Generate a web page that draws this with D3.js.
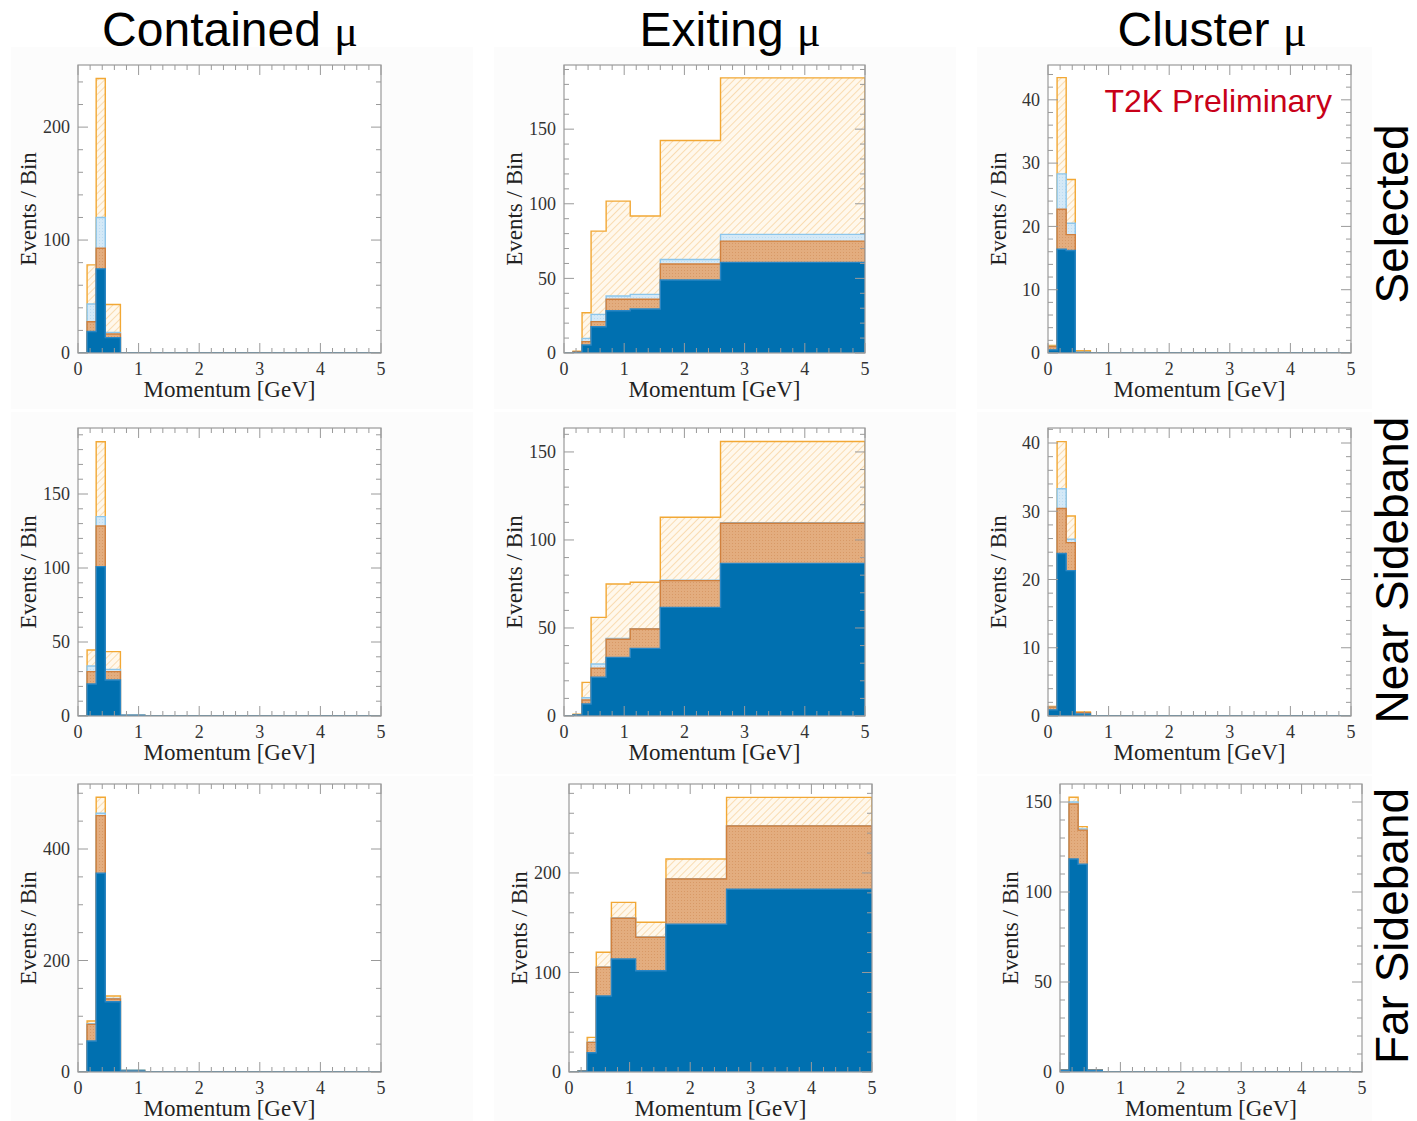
<!DOCTYPE html>
<html>
<head>
<meta charset="utf-8">
<script src="https://cdn.jsdelivr.net/npm/d3@7"></script>
<style>
body { margin: 0; background: #fff; }
</style>
</head>
<body>
<script>

// momentum bins [GeV]
var binEdges = [0, 0.15, 0.3, 0.45, 0.7, 1.1, 1.6, 2.6, 5.0];
var xTickValues = [0, 1, 2, 3, 4, 5];
var columnTitles = ["Contained", "Exiting", "Cluster"];
var rowTitles = ["Selected", "Near Sideband", "Far Sideband"];

// each panel: [signal, tan bkg, light blue bkg, hatched bkg], events per bin
var containedSelected = [
    [0, 19, 74.5, 13.6, 0, 0, 0, 0],
    [0, 8.7, 18.3, 3.2, 0, 0, 0, 0],
    [0, 15.7, 27.2, 1.5, 0, 0, 0, 0],
    [0, 34.6, 123, 24.7, 0, 0, 0, 0]];
var exitingSelected = [
    [0, 0.3, 5.4, 17.6, 28.3, 29.5, 48.9, 60.7],
    [0, 0.5, 2.2, 3.4, 7.7, 6.5, 10.7, 14.3],
    [0, 0.1, 2.2, 4.9, 2.2, 3.3, 3.1, 4.5],
    [0, 0.3, 17.2, 55.8, 63.6, 52.5, 79.7, 104.9]];
var clusterSelected = [
    [0.5, 16.4, 16.2, 0.1, 0, 0, 0, 0],
    [0.5, 6.3, 2.5, 0, 0, 0, 0, 0],
    [0.05, 5.6, 1.8, 0, 0, 0, 0, 0],
    [0.15, 15.2, 6.9, 0.25, 0, 0, 0, 0]];
var containedNear = [
    [0, 21.6, 100.9, 24.3, 0.3, 0, 0, 0],
    [0, 8.4, 27.5, 5.7, 0, 0, 0, 0],
    [0, 3.8, 6.3, 1.5, 0.6, 0, 0, 0],
    [0, 10.8, 50.6, 12, 0, 0, 0, 0]];
var exitingNear = [
    [0, 0.6, 6.8, 22, 33.3, 38.4, 61.7, 86.7],
    [0, 0.1, 2.3, 5.1, 10.3, 11, 15.2, 22.8],
    [0, 0.1, 1.3, 2.4, 0.5, 0.2, 0.3, 0.3],
    [0, 0.2, 8.7, 26.5, 30.9, 26.4, 35.7, 46.1]];
var clusterNear = [
    [0.9, 23.8, 21.3, 0.3, 0, 0, 0, 0],
    [0.4, 6.6, 4.1, 0.2, 0, 0, 0, 0],
    [0, 2.9, 0.5, 0, 0, 0, 0, 0],
    [0.1, 6.9, 3.4, 0.1, 0, 0, 0, 0]];
var containedFar = [
    [0, 55.6, 356.4, 126, 2, 0, 0, 0],
    [0, 29.9, 103.4, 5, 0, 0, 0, 0],
    [0, 1, 4.2, 1, 1.5, 0, 0, 0],
    [0, 5, 28.7, 4.3, 0, 0, 0, 0]];
var exitingFar = [
    [0, 0.8, 19.4, 76.4, 113.6, 101.8, 148.4, 183.6],
    [0, 0.2, 10.4, 28.8, 40.9, 33.6, 45.6, 63.6],
    [0, 0, 0.2, 0.3, 0.3, 0.2, 0.3, 0.3],
    [0, 0.2, 4.8, 14.8, 15.7, 14.9, 19.7, 28.5]];
var clusterFar = [
    [1, 118.3, 115.4, 1, 0, 0, 0, 0],
    [0.2, 30.6, 19, 0.2, 0, 0, 0, 0],
    [0, 1.1, 0.6, 0, 0, 0, 0, 0],
    [0.1, 2.6, 1.3, 0.1, 0, 0, 0, 0]];

var panelData = [
    [containedSelected, exitingSelected, clusterSelected],
    [containedNear, exitingNear, clusterNear],
    [containedFar, exitingFar, clusterFar]];

// y axis ranges and tick steps
var yMaxima = [[255, 193, 45.5], [194.6, 163.6, 42.2], [516.6, 289.4, 160]];
var yMajorStep = [[100, 50, 10], [50, 50, 10], [200, 100, 50]];
var yMinorStep = [[20, 10, 2], [10, 10, 2], [50, 20, 10]];

// layout
var panelLeft = [[78, 564, 1048], [78, 564, 1048], [78, 569, 1060]];
var panelWidth = [[303, 301, 303], [303, 301, 303], [303, 303, 302]];
var panelTop = [65, 428, 784];
var panelHeight = 288;
var titleX = [230, 730, 1212];
var rowLabelY = [214, 570, 926];

var serif = "'Liberation Serif', 'Times New Roman', serif";
var sans = "'Liberation Sans', Arial, sans-serif";

var layerFill = ["#0070b0", "url(#tanfill)", "url(#bluefill)", "url(#hatch)"];
var layerStroke = ["#2a86c4", "#d0803e", "#8cc6ec", "#f2a835"];

var canvas = d3.select("body")
    .append("svg")
    .attr("width", 1417).attr("height", 1121);

var defs = canvas.append("defs");

var hatch = defs.append("pattern")
    .attr("id", "hatch")
    .attr("patternUnits", "userSpaceOnUse")
    .attr("width", 5).attr("height", 5)
    .attr("patternTransform", "rotate(45)");
hatch.append("rect").attr("width", 5).attr("height", 5).attr("fill", "#fff8ec");
hatch.append("line")
    .attr("x1", 0).attr("y1", 0).attr("x2", 0).attr("y2", 5)
    .attr("stroke", "#f7cd92").attr("stroke-width", 1.3);

var tan = defs.append("pattern")
    .attr("id", "tanfill")
    .attr("patternUnits", "userSpaceOnUse")
    .attr("width", 3).attr("height", 3);
tan.append("rect").attr("width", 3).attr("height", 3).attr("fill", "#e3ad7f");
tan.append("rect").attr("width", 1).attr("height", 1).attr("fill", "#d89966");

var lb = defs.append("pattern")
    .attr("id", "bluefill")
    .attr("patternUnits", "userSpaceOnUse")
    .attr("width", 3).attr("height", 3);
lb.append("rect").attr("width", 3).attr("height", 3).attr("fill", "#d4e9f7");
lb.append("rect").attr("width", 1).attr("height", 1).attr("fill", "#bcdcf2");

// faint cell backgrounds
var cellX = [11, 494, 977];
var cellW = [462, 462, 395];
var cellY = [47, 412, 776];
var cellH = [362, 362, 345];
for (var r = 0; r < 3; r++) {
    for (var c = 0; c < 3; c++) {
        canvas.append("rect")
            .attr("x", cellX[c]).attr("y", cellY[r])
            .attr("width", cellW[c]).attr("height", cellH[r])
            .attr("fill", "#fcfcfc");
    }
}

function drawPanel(r, c) {
    var left = panelLeft[r][c], top = panelTop[r], w = panelWidth[r][c], h = panelHeight;
    var values = panelData[r][c];
    var yMax = yMaxima[r][c];

    var x = d3.scaleLinear().domain([0, 5]).range([left, left + w]);
    var y = d3.scaleLinear().domain([0, yMax]).range([top + h, top]);

    var g = canvas.append("g");

    g.append("rect")
        .attr("x", left).attr("y", top).attr("width", w).attr("height", h)
        .attr("fill", "#fff");

    var clipId = "clip" + r + c;
    defs.append("clipPath").attr("id", clipId)
        .append("rect").attr("x", left).attr("y", top).attr("width", w).attr("height", h);

    // cumulative stack
    var tops = [];
    var run = binEdges.slice(0, -1).map(function () { return 0; });
    values.forEach(function (layer) {
        run = run.map(function (v, i) { return v + layer[i]; });
        tops.push(run.slice());
    });

    var area = d3.area()
        .x(function (d) { return x(d.x); })
        .y0(y(0))
        .y1(function (d) { return y(d.y); })
        .curve(d3.curveStepAfter);

    var hg = g.append("g").attr("clip-path", "url(#" + clipId + ")");
    for (var k = tops.length - 1; k >= 0; k--) {
        var pts = tops[k].map(function (v, i) { return { x: binEdges[i], y: v }; });
        pts.push({ x: binEdges[binEdges.length - 1], y: tops[k][tops[k].length - 1] });
        hg.append("path")
            .datum(pts)
            .attr("d", area)
            .attr("fill", layerFill[k])
            .attr("stroke", layerStroke[k])
            .attr("stroke-width", 1.4);
    }

    // frame
    g.append("rect")
        .attr("x", left).attr("y", top).attr("width", w).attr("height", h)
        .attr("fill", "none").attr("stroke", "#9a9a9a").attr("stroke-width", 1.2);

    var tickColor = "#9a9a9a";
    var xMinor = d3.range(0, 5.0001, 0.2);
    xMinor.forEach(function (v) {
        var major = Math.abs(v - Math.round(v)) < 1e-6;
        var len = major ? 10 : 5;
        g.append("line").attr("x1", x(v)).attr("x2", x(v))
            .attr("y1", top + h).attr("y2", top + h - len)
            .attr("stroke", tickColor).attr("stroke-width", 1);
        g.append("line").attr("x1", x(v)).attr("x2", x(v))
            .attr("y1", top).attr("y2", top + len)
            .attr("stroke", tickColor).attr("stroke-width", 1);
    });

    var majStep = yMajorStep[r][c], minStep = yMinorStep[r][c];
    var yMinor = d3.range(0, yMax, minStep);
    yMinor.forEach(function (v) {
        var major = Math.abs(v / majStep - Math.round(v / majStep)) < 1e-6;
        var len = major ? 10 : 5;
        g.append("line").attr("x1", left).attr("x2", left + len)
            .attr("y1", y(v)).attr("y2", y(v))
            .attr("stroke", tickColor).attr("stroke-width", 1);
        g.append("line").attr("x1", left + w).attr("x2", left + w - len)
            .attr("y1", y(v)).attr("y2", y(v))
            .attr("stroke", tickColor).attr("stroke-width", 1);
    });

    // tick labels
    g.selectAll("text.xt")
        .data(xTickValues)
        .enter()
        .append("text")
        .attr("x", function (d) { return x(d); })
        .attr("y", top + h + 22)
        .attr("text-anchor", "middle")
        .attr("font-family", serif).attr("font-size", "18px").attr("fill", "#333")
        .text(function (d) { return d; });

    g.selectAll("text.yt")
        .data(d3.range(0, yMax, majStep))
        .enter()
        .append("text")
        .attr("x", left - 8)
        .attr("y", function (d) { return y(d); })
        .attr("dy", "0.35em")
        .attr("text-anchor", "end")
        .attr("font-family", serif).attr("font-size", "18px").attr("fill", "#333")
        .text(function (d) { return d; });

    g.append("text")
        .attr("x", left + w / 2).attr("y", top + h + 44)
        .attr("text-anchor", "middle")
        .attr("font-family", serif).attr("font-size", "23px").attr("fill", "#222")
        .text("Momentum [GeV]");

    g.append("text")
        .attr("transform", "translate(" + (left - 42) + "," + (top + h / 2) + ") rotate(-90)")
        .attr("text-anchor", "middle")
        .attr("font-family", serif).attr("font-size", "23px").attr("fill", "#222")
        .text("Events / Bin");
}

for (var r = 0; r < 3; r++) {
    for (var c = 0; c < 3; c++) {
        drawPanel(r, c);
    }
}

// column titles
columnTitles.forEach(function (t, i) {
    var txt = canvas.append("text")
        .attr("x", titleX[i]).attr("y", 46)
        .attr("text-anchor", "middle")
        .attr("font-family", sans).attr("font-size", "48px").attr("fill", "#000");
    txt.append("tspan").text(t + " ");
    txt.append("tspan").attr("font-family", serif).attr("font-size", "44px").text("μ");
});

// row titles
rowTitles.forEach(function (t, i) {
    canvas.append("text")
        .attr("transform", "translate(1408," + rowLabelY[i] + ") rotate(-90)")
        .attr("text-anchor", "middle")
        .attr("font-family", sans).attr("font-size", "46px").attr("fill", "#000")
        .text(t);
});

canvas.append("text")
    .attr("x", 1332).attr("y", 112)
    .attr("text-anchor", "end")
    .attr("font-family", sans).attr("font-size", "32px").attr("fill", "#c80018")
    .text("T2K Preliminary");

</script>
</body>
</html>
